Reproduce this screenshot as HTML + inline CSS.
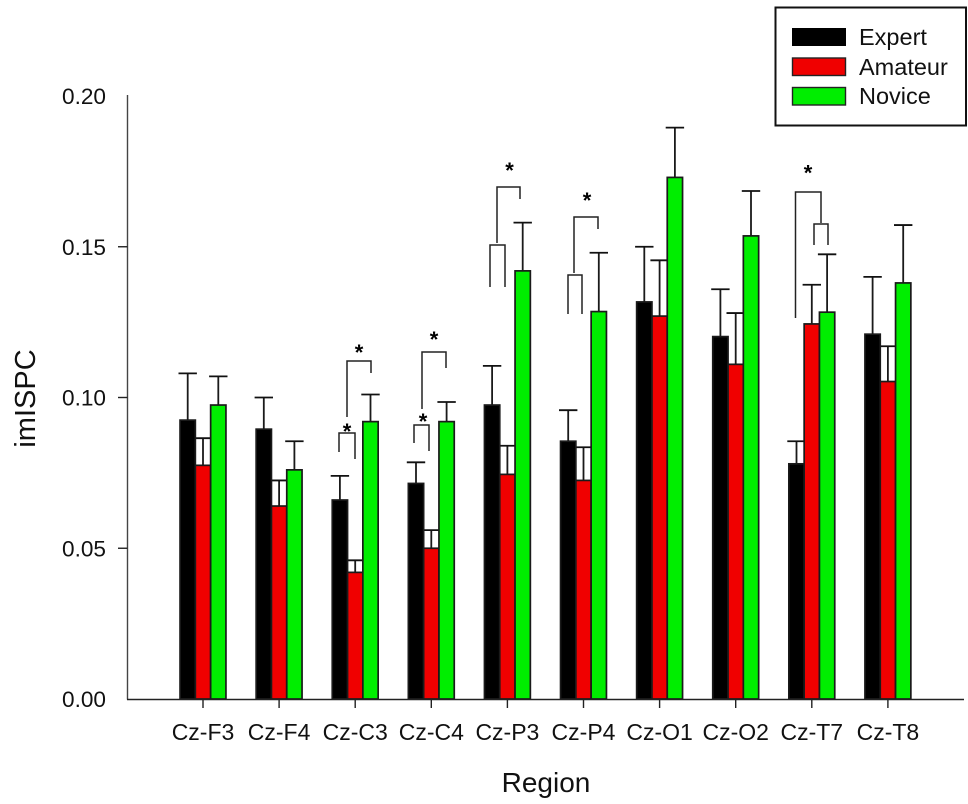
<!DOCTYPE html>
<html>
<head>
<meta charset="utf-8">
<style>
html,body{margin:0;padding:0;background:#fff;}
svg{display:block;font-family:"Liberation Sans",Arial,sans-serif;filter:blur(0.35px);}
</style>
</head>
<body>
<svg id="chart" xmlns="http://www.w3.org/2000/svg" width="968" height="804" viewBox="0 0 968 804">
  <rect width="968" height="804" fill="#fff"/>
  <g id="err-layer"></g>
  <g id="bar-layer"></g>
  <g id="axis-layer"></g>
  <text transform="translate(35,398.5) rotate(-90)" text-anchor="middle" font-size="29" fill="#111">imISPC</text>
  <text x="546" y="792" text-anchor="middle" font-size="28" fill="#111">Region</text>

  <g fill="none" stroke="#222" stroke-width="1.5">
    <path d="M347 417V361H371V373"/>
    <path d="M339 452V433H355V459"/>
    <path d="M422 409V352H446V368"/>
    <path d="M414 443V425H429V451"/>
    <path d="M497 243V187H520V199"/>
    <path d="M490 287V245H505V287"/>
    <path d="M574 273V217H598V229"/>
    <path d="M568 314V275H582V314"/>
    <path d="M795.5 318V192H821V223"/>
    <path d="M814 245V224H828V245"/>
  </g>
  <g font-size="22" font-weight="bold" text-anchor="middle" fill="#000">
    <text x="359" y="360">*</text>
    <text x="347" y="439">*</text>
    <text x="434" y="347">*</text>
    <text x="423" y="429">*</text>
    <text x="509.5" y="178">*</text>
    <text x="587" y="208">*</text>
    <text x="808" y="180.5">*</text>
  </g>

  <g>
    <rect x="775.5" y="7.5" width="190.5" height="118" fill="#fff" stroke="#111" stroke-width="2"/>
    <rect x="792" y="28" width="54" height="18" fill="#000"/>
    <rect x="792.5" y="58" width="53" height="17.5" fill="#f00000" stroke="#222" stroke-width="1.4"/>
    <rect x="792.5" y="87.5" width="53" height="17.5" fill="#00ee00" stroke="#222" stroke-width="1.4"/>
    <text x="859" y="45" font-size="23.5" fill="#111">Expert</text>
    <text x="859" y="75" font-size="23.5" fill="#111">Amateur</text>
    <text x="859" y="104" font-size="23.5" fill="#111">Novice</text>
  </g>
</svg>
<script>
var categories = ["Cz-F3","Cz-F4","Cz-C3","Cz-C4","Cz-P3","Cz-P4","Cz-O1","Cz-O2","Cz-T7","Cz-T8"];
var expertValues  = [0.0925,0.0895,0.066,0.0715,0.0975,0.0855,0.1317,0.1202,0.078,0.121];
var amateurValues = [0.0775,0.064,0.042,0.050,0.0745,0.0725,0.127,0.111,0.1244,0.1053];
var noviceValues  = [0.0975,0.076,0.092,0.092,0.142,0.1285,0.173,0.1536,0.1283,0.138];
var expertErrors  = [0.0155,0.0105,0.008,0.007,0.013,0.0103,0.0183,0.0157,0.0075,0.019];
var amateurErrors = [0.009,0.0085,0.004,0.006,0.0095,0.011,0.0185,0.017,0.013,0.0117];
var noviceErrors  = [0.0095,0.0095,0.009,0.0065,0.016,0.0195,0.0165,0.0149,0.0192,0.0192];
var yTickLabelValues = [0,0.05,0.10,0.15,0.20];
var yTickLabels = ["0.00","0.05","0.10","0.15","0.20"];
var yTickMarks = [0.05,0.10,0.15];

var NS = "http://www.w3.org/2000/svg";
function yScale(v){ return 699 - v * 3015; }
function xScale(i){ return 203 + i * 76.1; }
function mk(tag, parent, attrs){
  var el = document.createElementNS(NS, tag);
  for (var k in attrs) el.setAttribute(k, attrs[k]);
  parent.appendChild(el);
  return el;
}
var seriesValues = [expertValues, amateurValues, noviceValues];
var seriesErrors = [expertErrors, amateurErrors, noviceErrors];
var seriesFill = ["#000","#f00000","#00ee00"];
var barW = 15.3;
var errLayer = document.getElementById("err-layer");
var barLayer = document.getElementById("bar-layer");
var axisLayer = document.getElementById("axis-layer");

seriesValues.forEach(function(vals, s){
  vals.forEach(function(v, i){
    var cx = xScale(i) + (s - 1) * barW;
    var top = yScale(v);
    var errTop = yScale(v + seriesErrors[s][i]);
    var stem = mk("line", errLayer, {x1:cx, x2:cx, y1:top, y2:errTop, stroke:"#1a1a1a", "stroke-width":1.8});
    
    
    var cap = mk("line", errLayer, {x1:cx-9.2, x2:cx+9.2, y1:errTop, y2:errTop, stroke:"#111", "stroke-width":1.8});
    
    
  });
});
seriesValues.forEach(function(vals, s){
  vals.forEach(function(v, i){
    var cx = xScale(i) + (s - 1) * barW;
    var top = yScale(v);
    var bar = mk("rect", barLayer, {x:cx-barW/2, y:top, width:barW, height:699-top, fill:seriesFill[s], stroke:"#1a1a1a", "stroke-width":1.7});
    
    
  });
});

var yAxis = mk("line", axisLayer, {x1:127.5, x2:127.5, y1:95, y2:699.5, stroke:"#444", "stroke-width":1.4});


var xAxis = mk("line", axisLayer, {x1:127, x2:964, y1:699.5, y2:699.5, stroke:"#222", "stroke-width":1.5});



yTickMarks.forEach(function(t){
  var y = yScale(t);
  var tick = mk("line", axisLayer, {x1:118, x2:127.5, y1:y, y2:y, stroke:"#222", "stroke-width":1.4});
  
  
});
yTickLabelValues.forEach(function(t, i){
  var label = mk("text", axisLayer, {x:106, y:yScale(t)+8, "text-anchor":"end", "font-size":22.6, fill:"#111"});
  
  
  label.textContent = yTickLabels[i];
});
categories.forEach(function(c, i){
  var x = xScale(i);
  var tick = mk("line", axisLayer, {x1:x, x2:x, y1:699.5, y2:708, stroke:"#222", "stroke-width":1.4});
  
  
  var label = mk("text", axisLayer, {x:x, y:740, "text-anchor":"middle", "font-size":23, fill:"#111"});
  
  
  label.textContent = c;
});
</script>
</body>
</html>
